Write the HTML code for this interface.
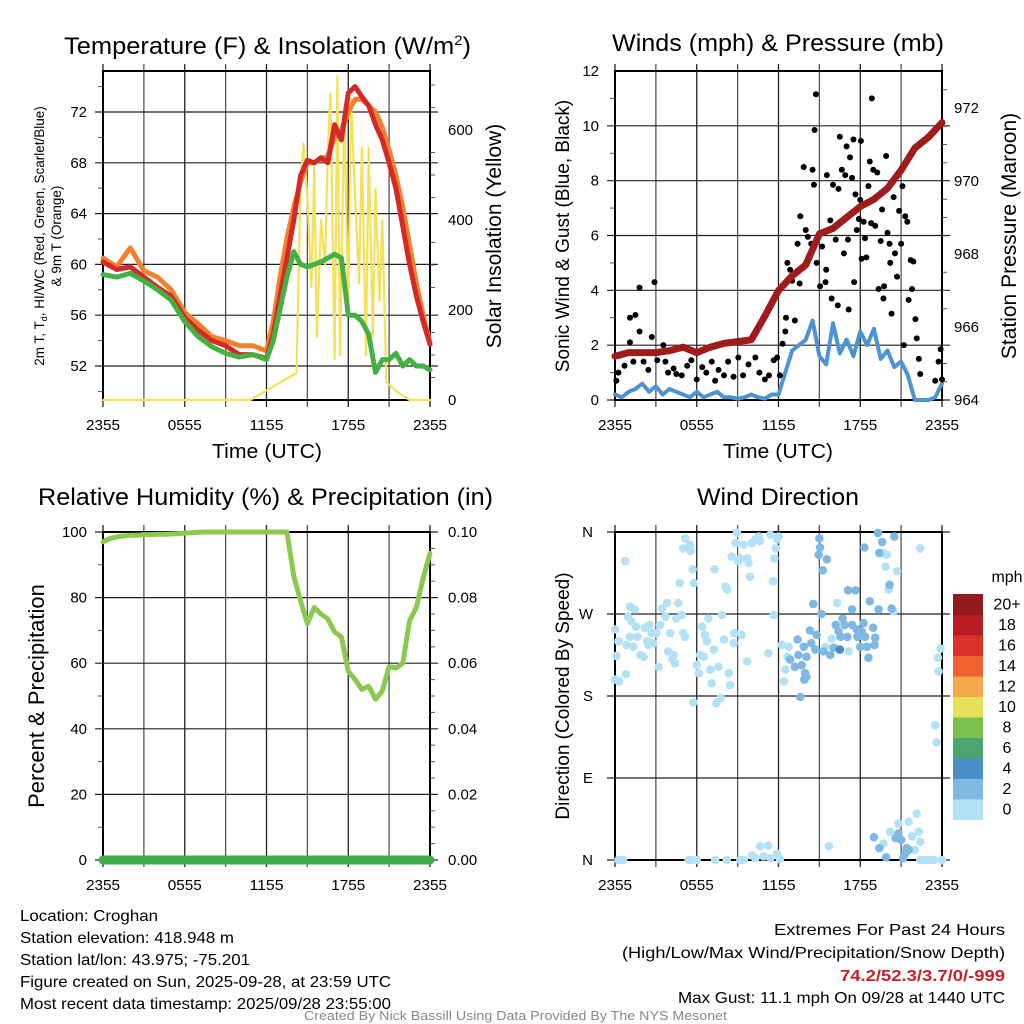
<!DOCTYPE html>
<html><head><meta charset="utf-8"><style>
html,body{margin:0;padding:0;background:#fff;}
svg{display:block;font-family:"Liberation Sans",sans-serif;}
</style></head><body>
<svg id="fig" width="1024" height="1024" viewBox="0 0 1024 1024" xmlns="http://www.w3.org/2000/svg">
<rect width="1024" height="1024" fill="#fff"/>
<text x="64" y="54" font-size="24" textLength="407" lengthAdjust="spacingAndGlyphs">Temperature (F) &amp; Insolation (W/m<tspan dy="-9" font-size="14">2</tspan><tspan dy="9">)</tspan></text>
<text x="612" y="51" font-size="24" textLength="332" lengthAdjust="spacingAndGlyphs">Winds (mph) &amp; Pressure (mb)</text>
<text x="38" y="505" font-size="24" textLength="455" lengthAdjust="spacingAndGlyphs">Relative Humidity (%) &amp; Precipitation (in)</text>
<text x="697" y="505" font-size="24" textLength="162" lengthAdjust="spacingAndGlyphs">Wind Direction</text>
<text x="212" y="458" font-size="20" textLength="110" lengthAdjust="spacingAndGlyphs">Time (UTC)</text>
<text x="723" y="458" font-size="20" textLength="110" lengthAdjust="spacingAndGlyphs">Time (UTC)</text>
<g transform="translate(44,236) rotate(-90)" font-size="13.5" text-anchor="middle">
<text x="0" y="0">2m T, T<tspan font-size="9" dy="3">d</tspan><tspan dy="-3">, HI/WC (Red, Green, Scarlet/Blue)</tspan></text>
<text x="0" y="17">&amp; 9m T (Orange)</text></g>
<text transform="translate(501,236) rotate(-90)" font-size="21" text-anchor="middle">Solar Insolation (Yellow)</text>
<text transform="translate(569,236) rotate(-90)" font-size="19" text-anchor="middle">Sonic Wind &amp; Gust (Blue, Black)</text>
<text transform="translate(1016,236) rotate(-90)" font-size="21" text-anchor="middle">Station Pressure (Maroon)</text>
<text transform="translate(44,696) rotate(-90)" font-size="22" text-anchor="middle">Percent &amp; Precipitation</text>
<text transform="translate(569,696) rotate(-90)" font-size="19" text-anchor="middle">Direction (Colored By Speed)</text>
<g id="plots"></g>
<g font-size="16">
<text x="20" y="921" textLength="138" lengthAdjust="spacingAndGlyphs">Location: Croghan</text>
<text x="20" y="943" textLength="214" lengthAdjust="spacingAndGlyphs">Station elevation: 418.948 m</text>
<text x="20" y="965" textLength="230" lengthAdjust="spacingAndGlyphs">Station lat/lon: 43.975; -75.201</text>
<text x="20" y="987" textLength="371" lengthAdjust="spacingAndGlyphs">Figure created on Sun, 2025-09-28, at 23:59 UTC</text>
<text x="20" y="1009" textLength="371" lengthAdjust="spacingAndGlyphs">Most recent data timestamp: 2025/09/28 23:55:00</text>
</g>
<g font-size="16">
<text x="774" y="935" textLength="231" lengthAdjust="spacingAndGlyphs">Extremes For Past 24 Hours</text>
<text x="622" y="958" textLength="383" lengthAdjust="spacingAndGlyphs">(High/Low/Max Wind/Precipitation/Snow Depth)</text>
<text x="840" y="981" font-weight="bold" fill="#c8202a" textLength="165" lengthAdjust="spacingAndGlyphs">74.2/52.3/3.7/0/-999</text>
<text x="678" y="1003" textLength="327" lengthAdjust="spacingAndGlyphs">Max Gust: 11.1 mph On 09/28 at 1440 UTC</text>
</g>
<text x="304" y="1020" font-size="12.5" fill="#888" textLength="423" lengthAdjust="spacingAndGlyphs">Created By Nick Bassill Using Data Provided By The NYS Mesonet</text>
</svg>
<script>
const hourTicks = ["2355","0555","1155","1755","2355"];
const tempHours = [0,1,2,3,4,5,6,7,8,9,10,11,12,12.5,13,13.5,14,14.5,15,15.5,16,16.5,17,17.5,18,18.5,19,19.5,20,20.5,21,21.5,22,22.5,23,23.5,24];
const airTemp =  [60.2,59.6,59.8,59.0,58.2,57.5,55.8,54.8,54.0,53.6,52.9,52.9,52.6,54.5,57.5,60.5,63.5,67.0,68.2,68.0,68.4,68.0,71.0,69.8,73.5,74.0,73.2,72.5,71.0,69.8,68.0,66.0,63.0,60.0,57.5,55.5,53.7];
const temp9m =   [60.5,59.8,61.3,59.5,59.0,58.0,56.2,55.3,54.3,54.0,53.6,53.6,53.2,55.5,59.0,62.0,64.5,66.5,68.0,68.0,68.3,68.5,70.0,70.5,72.0,73.0,73.0,72.5,72.0,70.8,69.0,67.0,64.5,61.5,58.5,56.0,53.8];
const dewPoint = [59.2,59.0,59.3,58.7,58.0,57.2,55.5,54.3,53.5,53.0,52.7,52.9,52.5,54.0,56.5,59.0,61.0,60.0,59.8,60.0,60.2,60.5,60.8,60.5,56.0,56.0,55.5,54.5,51.5,52.5,52.5,53.0,52.0,52.5,52.0,52.0,51.7];
const solarHours = [0,10.8,14.2,14.5,14.7,15,15.3,15.5,15.7,16,16.3,16.5,16.7,17,17.2,17.4,17.7,18,18.2,18.5,18.8,19,19.3,19.5,19.8,20,20.3,20.5,20.8,21.5,22.5,24];
const solarRad =   [0,0,60,480,570,450,250,520,140,400,300,560,680,90,720,100,650,200,670,450,260,560,100,560,140,470,220,400,40,20,0,0];
const tempTicks = [52,56,60,64,68,72];
const solarTicks = [0,200,400,600];

const pressHours = [0,1,2,3,4,5,6,7,8,9,10,11,12,13,14,15,16,17,18,19,20,21,22,23,24];
const pressure = [965.2,965.3,965.3,965.3,965.35,965.45,965.3,965.45,965.55,965.6,965.65,966.3,967.0,967.4,967.7,968.55,968.7,969.0,969.3,969.5,969.8,970.3,970.9,971.2,971.6];
const windSpeed = [0.2,0.1,0.3,0.4,0.6,0.3,0.5,0.2,0.4,0.3,0.2,0.1,0.3,0.1,0.2,0.3,0.1,0.1,0.05,0.1,0.2,0.1,0.05,0.2,0.2,1.0,1.8,2.0,2.2,2.9,1.6,1.3,2.8,1.7,2.2,1.6,2.5,2.0,2.6,1.5,1.8,1.2,1.4,0.9,0.0,0.0,0.0,0.1,0.6];
const gustHours = [0.1,0.25,0.7,1.1,1.5,1.8,1.8,1.1,1.35,2.1,2.45,2.7,2.9,3.1,3.55,3.7,3.9,4.3,4.5,4.9,5.3,5.6,6.0,6.4,6.7,7.1,7.35,7.6,8.0,8.3,8.7,9.05,9.4,9.8,10.3,10.6,11.0,11.3,11.65,11.9,12.1,12.3,12.5,12.55,12.65,12.85,13.0,13.2,13.4,13.55,13.6,13.85,14.0,14.15,14.4,14.5,14.6,14.65,14.75,14.8,15.05,15.2,15.45,15.5,15.55,15.8,15.9,16.0,16.2,16.35,16.4,16.5,16.65,16.8,16.9,17.0,17.1,17.15,17.25,17.4,17.5,17.55,17.65,17.75,17.9,18.0,18.05,18.1,18.25,18.35,18.45,18.6,18.7,18.8,18.85,18.95,19.1,19.25,19.35,19.5,19.6,19.7,19.75,19.9,20.0,20.15,20.2,20.3,20.45,20.55,20.7,20.85,21.0,21.1,21.2,21.3,21.45,21.55,21.7,21.8,21.9,22.05,22.15,22.3,22.4,23.5,23.75,23.9,24.0];
const gustSpeed = [0.7,1.0,1.25,3.0,3.1,4.1,2.5,2.1,1.4,1.4,1.1,2.3,4.3,1.45,2.0,1.4,1.0,1.15,0.95,0.9,1.25,1.45,0.75,1.2,1.0,1.4,0.7,1.1,0.9,1.4,0.85,1.55,0.9,1.3,1.55,1.0,0.75,0.9,1.45,1.55,0.9,2.05,2.5,3.0,5.0,4.75,4.35,2.9,5.7,4.25,6.7,8.5,6.2,5.95,5.7,8.4,7.85,9.85,11.15,5.0,4.15,5.6,4.3,4.75,8.2,6.55,3.7,7.85,5.85,3.45,7.7,9.6,8.4,5.35,8.2,9.25,5.85,3.3,8.85,8.1,9.5,4.3,7.5,6.2,6.6,7.3,9.45,5.15,6.5,5.9,5.2,7.8,8.7,6.45,11.0,8.4,6.35,8.3,4.05,5.8,6.95,3.7,4.15,8.9,6.1,5.7,5.0,3.15,7.4,5.35,4.5,6.9,5.7,7.8,2.0,6.7,6.5,3.65,5.1,4.05,5.05,2.95,2.25,1.5,0.95,0.7,1.4,1.85,0.75];
const windTicks = [0,2,4,6,8,10,12];
const pressTicks = [964,966,968,970,972];

const rhSeries = [97,98,98.5,98.8,99,99,99.2,99.2,99.3,99.3,99.4,99.5,99.7,99.8,99.9,100,100,100,100,100,100,100,100,100,100,100,100,100,86.5,79,72,77,75,73.5,69.5,68,57.5,55,52,53,49,51.5,59,58.5,60,73,77,86,93.5];
const precipSeries = [0,0,0,0,0,0,0,0,0,0,0,0,0,0,0,0,0,0,0,0,0,0,0,0,0];
const rhTicks = [0,20,40,60,80,100];
const precipTicks = ["0.00","0.02","0.04","0.06","0.08","0.10"];

const dirHours = [0,0.25,0.1,0,0.3,0.75,0.8,0.85,0.95,1.1,1.2,1.45,1.55,1.1,1.35,1.65,1.85,2.1,2.2,2.35,2.45,2.55,2.7,2.8,3.05,3.2,3.3,3.45,3.7,3.8,3.9,4.05,4.2,4.3,4.4,4.5,4.65,4.75,4.9,5.0,5.15,5.0,5.15,5.5,5.55,5.7,5.8,5.75,6.0,6.15,6.25,6.4,6.5,6.6,6.75,6.85,7.0,7.1,7.25,7.3,7.45,7.6,7.75,7.85,8.0,8.1,8.25,8.35,8.45,8.55,8.7,8.75,8.85,8.95,9.05,9.2,9.3,9.45,9.7,9.7,9.8,9.9,10.05,10.3,10.55,10.65,11.25,11.4,11.6,11.7,11.8,11.9,12.0,11.65,12.25,12.4,12.5,12.65,12.75,15.45,15.7,15.9,16.3,17.15,22.4,20.1,19.85,19.7,19.95,20.45,20.7,23.5,23.6,23.7,23.75,23.9,
0.25,0.5,0.6,5.4,5.6,6.0,7.35,8.2,9.2,9.45,10.05,10.3,10.65,10.9,11.25,11.4,11.9,12.1,20.8,21.55,22.15,21.8,22.3,22.4,20.2,19.7,22.0,22.4,22.65,22.9,23.15,23.4,24,
15.0,15.05,14.95,15.55,15.25,14.55,15.15,14.3,14.8,13.4,13.85,13.45,14.05,12.85,13.2,13.7,13.95,14.05,13.9,13.6,14.4,14.7,15.3,15.8,16.05,16.2,16.4,16.55,16.7,16.85,17.05,17.1,17.4,17.4,17.65,17.75,17.8,18.0,18.1,18.25,18.35,18.5,18.6,18.7,18.95,19.1,19.05,19.35,20.3,20.15,19.3,19.6,19.4,20.5,18.3,19.0,19.4,19.9,20.6,20.8,21.0,21.15,21.3,21.4,21.55,
16.5];
const dirDegrees = [253,240,224,198,196,328,204,236,267,278,262,275,256,245,234,245,225,223,255,240,236,258,249,238,249,212,258,276,267,282,229,249,220,225,216,265,282,304,269,249,245,342,353,346,339,319,304,173,214,205,225,256,223,247,240,265,209,194,231,319,172,212,178,269,242,300,297,205,192,333,238,249,348,359,328,331,247,346,218,331,326,311,348,352,355,350,227,357,306,331,342,352,355,269,236,196,209,223,234,234,15,243,282,229,342,297,322,337,335,273,317,148,129,222,207,232,
0,0,0,0,0,0,0,0,0,0,5,2,15,4,16,2,7,1,40,42,51,26,31,20,31,18,11,0,0,0,0,0,0,
353,343,335,330,318,281,270,252,247,242,234,225,223,220,212,214,205,201,198,179,238,231,229,225,233,258,251,245,265,258,245,296,258,275,296,253,245,234,251,260,245,234,222,284,255,244,236,275,276,302,359,349,337,355,343,25,13,3,24,29,22,2,7,13,11,
231];
const dirSpeedBin = [0,0,0,0,0,0,0,0,0,0,0,0,0,0,0,0,0,0,0,0,0,0,0,0,0,0,0,0,0,0,0,0,0,0,0,0,0,0,0,0,0,0,0,0,0,0,0,0,0,0,0,0,0,0,0,0,0,0,0,0,0,0,0,0,0,0,0,0,0,0,0,0,0,0,0,0,0,0,0,0,0,0,0,0,0,0,0,0,0,0,0,0,0,0,0,0,0,0,0,0,0,0,0,0,0,0,0,0,0,0,0,0,0,0,0,0,
0,0,0,0,0,0,0,0,0,0,0,0,0,0,0,0,0,0,0,0,0,0,0,0,0,0,0,0,0,0,0,0,0,
1,1,1,1,1,1,1,1,1,1,1,1,1,1,1,1,1,1,1,1,1,1,1,1,1,1,1,1,1,1,1,1,1,1,1,1,1,1,1,1,1,1,1,1,1,1,1,1,1,1,1,1,1,1,1,1,1,1,1,1,1,1,1,1,1,
2];
const dirTicks = [0,90,180,270,360];
const dirTickLabels = ["N","E","S","W","N"];
const speedLabels = ["0","2","4","6","8","10","12","14","16","18","20+"];
const speedColors = ["#b3e2f7","#7fb9e3","#4a8ec6","#4aa56e","#7cc14e","#e6e05a","#f4a74a","#ee6330","#db3329","#b81d25","#911b1c"];

const NS="http://www.w3.org/2000/svg";
const root=document.getElementById("plots");
function mk(tag,attrs,parent){const e=document.createElementNS(NS,tag);for(const k in attrs)e.setAttribute(k,attrs[k]);(parent||root).appendChild(e);return e;}
const P={L:[103,430],R:[615,942]};
const TOP1=71,BOT1=400,TOP2=532,BOT2=860;
function xs(h,p){return p[0]+h/24*(p[1]-p[0]);}
const yT=v=>366-(v-52)*12.7, ySol=v=>400-v*0.45;
const yW=v=>400-v*(329/12), yP=v=>400-(v-964)*36.5;
const yR=v=>860-v*3.28, yPr=v=>860-v*3280;
const yD=d=>860-d*(328/360);

function grid(p,top,bot,hLines,name){
  const g=mk("g",{});
  
  
  for(let i=0;i<=8;i++){const x=p[0]+i*(p[1]-p[0])/8;
    mk("line",{x1:x,y1:top-7,x2:x,y2:bot+7,stroke:i%2?"#555":"#222","stroke-width":1.3},g);}
  hLines.forEach(y=>mk("line",{x1:p[0]-8,y1:y,x2:p[1]+8,y2:y,stroke:"#222","stroke-width":1.2},g));
  mk("rect",{x:p[0],y:top,width:p[1]-p[0],height:bot-top,fill:"none",stroke:"#000","stroke-width":2},g);
  hourTicks.forEach((t,i)=>{const tx=mk("text",{x:p[0]+i*(p[1]-p[0])/4,y:bot+30,"font-size":15,"text-anchor":"middle",textLength:34,lengthAdjust:"spacingAndGlyphs"},g);tx.textContent=t;});
  return g;
}
function minor(p,ys,side,g){ys.forEach(y=>{const x=side<0?p[0]:p[1];mk("line",{x1:x,y1:y,x2:x+side*5,y2:y,stroke:"#555","stroke-width":1},g);});}
function label(x,y,t,anchor,g,fs){const e=mk("text",{x:x,y:y+5,"font-size":fs||15,"text-anchor":anchor},g);e.textContent=t;return e;}
function path(xsArr,ysArr,attrs,name){let d="";xsArr.forEach((x,i)=>{d+=(i?"L":"M")+x.toFixed(1)+","+ysArr[i].toFixed(1);});
  const e=mk("path",Object.assign({d:d,fill:"none","stroke-linejoin":"round","stroke-linecap":"round"},attrs));
  
  
  return e;}

{const p=P.L;const g=grid(p,TOP1,BOT1,tempTicks.map(yT),"temperature");
 const mn=[];for(let v=50;v<=75;v+=2)if(v%4)mn.push(yT(v));minor(p,mn,-1,g);
 const mr=[];for(let v=50;v<=700;v+=50)if(v%200)mr.push(ySol(v));minor(p,mr,1,g);
 tempTicks.forEach(v=>label(p[0]-16,yT(v),String(v),"end",g));
 solarTicks.forEach(v=>label(p[1]+18,ySol(v),String(v),"start",g));
 path(solarHours.map(h=>xs(h,p)),solarRad.map(ySol),{stroke:"#f5e05a","stroke-width":2.2},"solar-insolation-line");
 path(tempHours.map(h=>xs(h,p)),temp9m.map(yT),{stroke:"#f2802f","stroke-width":5},"temp-9m-line");
 path(tempHours.map(h=>xs(h,p)),airTemp.map(yT),{stroke:"#d42a27","stroke-width":5},"air-temperature-line");
 path(tempHours.map(h=>xs(h,p)),dewPoint.map(yT),{stroke:"#44b145","stroke-width":5},"dew-point-line");
}
{const p=P.R;const g=grid(p,TOP1,BOT1,windTicks.slice(0,6).map(yW),"winds");
 const mn=[];for(let v=1;v<12;v+=2)mn.push(yW(v));minor(p,mn,-1,g);
 const mr=[];for(let v=964.5;v<973;v+=0.5)if(v%2)mr.push(yP(v));minor(p,mr,1,g);
 windTicks.forEach(v=>label(p[0]-16,yW(v),String(v),"end",g));
 pressTicks.forEach(v=>label(p[1]+12,yP(v),String(v),"start",g));
 path(windSpeed.map((v,i)=>xs(i*0.5,p)),windSpeed.map(yW),{stroke:"#4d93d0","stroke-width":4},"sonic-wind-line");
 const gg=mk("g",{});
 
 
 gustHours.forEach((h,i)=>{const c=mk("circle",{cx:xs(h,p),cy:yW(gustSpeed[i]),r:3,fill:"#000"},gg);
   
   });
 path(pressHours.map(h=>xs(h,p)),pressure.map(yP),{stroke:"#a01c1c","stroke-width":7},"pressure-line");
}
{const p=P.L;const g=grid(p,TOP2,BOT2,rhTicks.map(yR),"humidity");
 const mn=[];for(let v=10;v<100;v+=20)mn.push(yR(v));minor(p,mn,-1,g);
 const mr=[];for(let v=5;v<100;v+=5)if(v%20)mr.push(yR(v));minor(p,mr,1,g);
 rhTicks.forEach(v=>label(p[0]-16,yR(v),String(v),"end",g));
 precipTicks.forEach(v=>label(p[1]+18,yPr(parseFloat(v)),v,"start",g));
 path(rhSeries.map((v,i)=>xs(i*0.5,p)),rhSeries.map(yR),{stroke:"#8cc94f","stroke-width":5},"humidity-line");
 path(precipSeries.map((v,i)=>xs(i,p)),precipSeries.map(yPr),{stroke:"#3fae49","stroke-width":9},"precipitation-line");
}
{const p=P.R;const g=grid(p,TOP2,BOT2,dirTicks.map(yD),"wind-direction");
 dirTicks.forEach((v,i)=>label(p[0]-22,yD(v),dirTickLabels[i],"end",g));
 const gg=mk("g",{});
 
 
 dirHours.forEach((h,i)=>{const c=mk("circle",{cx:xs(h,p),cy:yD(dirDegrees[i]),r:4.3,fill:speedColors[dirSpeedBin[i]]},gg);
   
   });
 const lg=mk("g",{});
 
 
 const bh=20.5, btop=594;
 speedColors.forEach((c,i)=>{const y=btop+(10-i)*bh;
   const r=mk("rect",{x:953,y:y,width:30,height:bh+0.5,fill:c},lg);
   
   
   label(1007,y+bh/2,speedLabels[i],"middle",lg,16);});
 label(1007,577,"mph","middle",lg,16);
}
</script>
</body></html>
